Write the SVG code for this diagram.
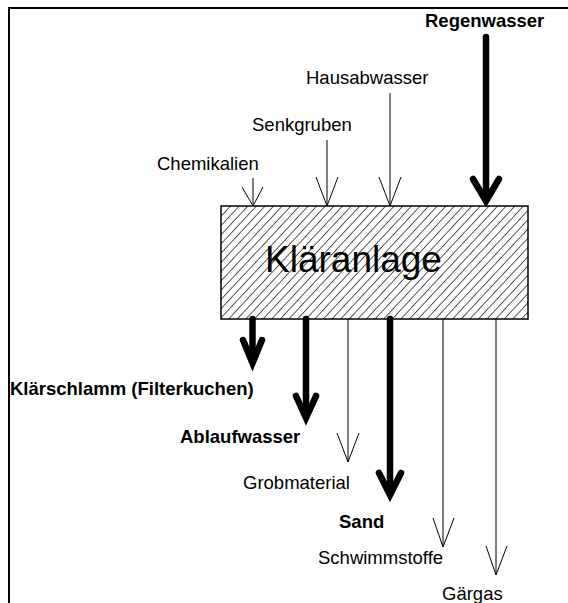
<svg xmlns="http://www.w3.org/2000/svg" width="568" height="603" viewBox="0 0 568 603">
<style>
text{font-family:"Liberation Sans",Arial,sans-serif;font-size:18.5px;fill:#000}
.b{font-weight:bold}
.thin{stroke:#000;stroke-width:1;fill:none}
.thick{stroke:#000;stroke-width:6.5;fill:none;stroke-linecap:round}
.head{stroke:#000;stroke-width:6.5;fill:none;stroke-linecap:round;stroke-linejoin:miter}
</style>
<defs>
<pattern id="hatch" patternUnits="userSpaceOnUse" width="6.3" height="10" patternTransform="rotate(43)">
<line x1="0" y1="-1" x2="0" y2="11" stroke="#000" stroke-width="1.3"/>
</pattern>
</defs>
<rect width="568" height="603" fill="#fff"/>
<g id="frame">
<path d="M9,603 V8 H568" fill="none" stroke="#000" stroke-width="2"/>
</g>
<g id="klaeranlage">
<rect x="221" y="206" width="307" height="113" fill="url(#hatch)" stroke="#000" stroke-width="1.5"/>
<text x="265" y="272" style="font-size:37px">Kläranlage</text>
</g>
<g id="regenwasser"><text class="b" x="425" y="27">Regenwasser</text></g>
<g id="hausabwasser"><text x="306" y="84">Hausabwasser</text></g>
<g id="senkgruben"><text x="252" y="131">Senkgruben</text></g>
<g id="chemikalien"><text x="157" y="170">Chemikalien</text></g>
<g id="klaerschlamm"><text class="b" x="10" y="395">Klärschlamm (Filterkuchen)</text></g>
<g id="ablaufwasser"><text class="b" x="180" y="443">Ablaufwasser</text></g>
<g id="grobmaterial"><text x="243" y="489">Grobmaterial</text></g>
<g id="sand"><text class="b" x="339" y="528">Sand</text></g>
<g id="schwimmstoffe"><text x="318" y="564">Schwimmstoffe</text></g>
<g id="gaergas"><text x="442" y="600">Gärgas</text></g>
<g id="connectors">
<line class="thin" x1="253" y1="178" x2="253" y2="206"/>
<polyline class="thin" points="242,187 253,206 263,187"/>
<line class="thin" x1="327" y1="140" x2="327" y2="206"/>
<polyline class="thin" points="316,177 327,206 338,177"/>
<line class="thin" x1="390" y1="93" x2="390" y2="206"/>
<polyline class="thin" points="379,177 390,206 401,177"/>
<line class="thick" x1="486" y1="37" x2="486" y2="198"/>
<polyline class="head" points="473,179 486,201 499,179"/>
<line class="thick" x1="252.5" y1="319" x2="252.5" y2="358"/>
<polyline class="head" points="243,340 252.5,363 262,340"/>
<line class="thick" x1="306" y1="319" x2="306" y2="414"/>
<polyline class="head" points="296,396 306,418 316,396"/>
<line class="thin" x1="348" y1="319" x2="348" y2="462"/>
<polyline class="thin" points="337,433 348,462 359,433"/>
<line class="thick" x1="390" y1="319" x2="390" y2="491"/>
<polyline class="head" points="379,473 390,495 401,473"/>
<line class="thin" x1="443" y1="319" x2="443" y2="547"/>
<polyline class="thin" points="433,518 443,547 454,518"/>
<line class="thin" x1="496" y1="319" x2="496" y2="575"/>
<polyline class="thin" points="486,546 496,575 507,546"/>
</g>
</svg>
